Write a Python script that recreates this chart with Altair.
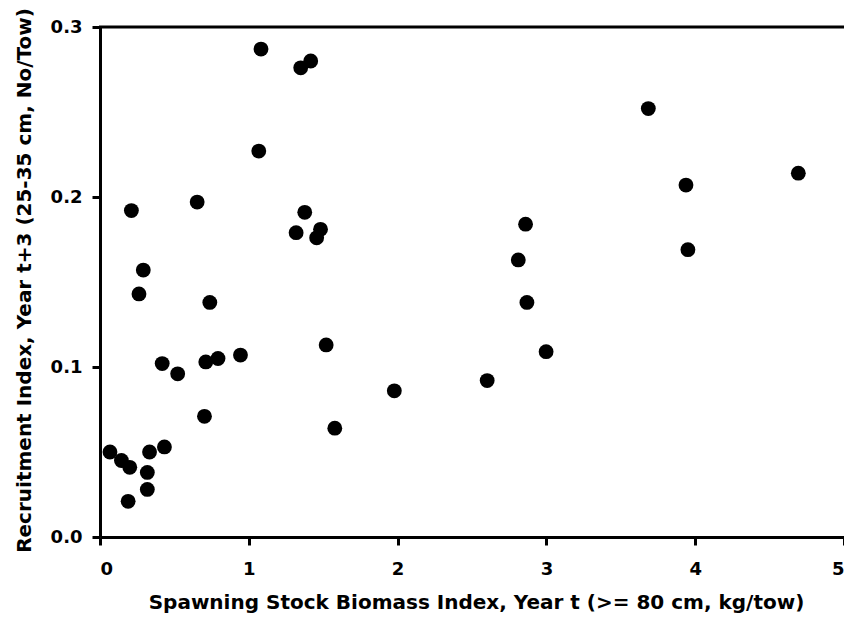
import altair as alt
import pandas as pd

ssb = [0.067, 0.144, 0.200, 0.189, 0.333, 0.318, 0.318, 0.433, 0.418, 0.522,
       0.702, 0.711, 0.793, 0.944, 1.520, 1.578, 1.978, 0.738, 0.262, 1.082,
       1.349, 1.416, 1.067, 0.653, 0.211, 1.376, 1.318, 1.482, 1.456, 0.291,
       3.685, 3.938, 4.693, 2.860, 2.811, 2.869, 3.951, 2.998, 2.602]
recruit = [0.050, 0.045, 0.041, 0.021, 0.050, 0.038, 0.028, 0.053, 0.102, 0.096,
           0.071, 0.103, 0.105, 0.107, 0.113, 0.064, 0.086, 0.138, 0.143, 0.287,
           0.276, 0.280, 0.227, 0.197, 0.192, 0.191, 0.179, 0.181, 0.176, 0.157,
           0.252, 0.207, 0.214, 0.184, 0.163, 0.138, 0.169, 0.109, 0.092]

x_ticks = [0, 1, 2, 3, 4, 5]
y_ticks = [0.0, 0.1, 0.2, 0.3]
x_title = "Spawning Stock Biomass Index, Year t (>= 80 cm, kg/tow)"
y_title = "Recruitment Index, Year t+3 (25-35 cm, No/Tow)"

df = pd.DataFrame({"ssb": ssb, "recruit": recruit})

FONT = "DejaVu Sans"
LFS = 18
TFS = 20
W, H = 744, 510

xs = alt.Scale(domain=[0, 5], nice=False, zero=False)
ys = alt.Scale(domain=[0, 0.3], nice=False, zero=False)

pts = alt.Chart(df).mark_circle(size=220, color="black", opacity=1).encode(
    x=alt.X("ssb:Q", scale=xs, title=x_title,
            axis=alt.Axis(values=x_ticks, format="d", grid=False,
                          domainColor="black", domainWidth=3,
                          tickColor="black", tickWidth=3, tickSize=8,
                          labelPadding=15, labelFontSize=LFS, labelFontWeight="bold",
                          labelFont=FONT, labelColor="black",
                          titleFont=FONT, titleFontSize=TFS, titleFontWeight="bold",
                          titleColor="black", titleBaseline="alphabetic",
                          titleX=376, titleY=71)),
    y=alt.Y("recruit:Q", scale=ys, title=y_title,
            axis=alt.Axis(values=y_ticks, format=".1f", grid=False,
                          domainColor="black", domainWidth=3,
                          tickColor="black", tickWidth=3, tickSize=8,
                          labelPadding=10, labelFontSize=LFS, labelFontWeight="bold",
                          labelFont=FONT, labelColor="black",
                          titleFont=FONT, titleFontSize=TFS, titleFontWeight="bold",
                          titleColor="black", titleBaseline="alphabetic",
                          titleX=-70, titleY=253)),
)

top_rule = alt.Chart(pd.DataFrame({"y": [0.3]})).mark_rule(
    color="black", strokeWidth=3
).encode(
    y=alt.Y("y:Q", scale=ys),
    x=alt.value(-1),
    x2=alt.value(W),
)

chart = alt.layer(pts, top_rule).properties(
    width=W, height=H,
    autosize=alt.AutoSizeParams(type="none"),
    padding={"left": 92, "top": 19, "right": 0, "bottom": 76},
).configure_view(stroke="#888888", strokeWidth=1).configure(background="white")

chart.save("out.html", embed_options={"renderer": "svg", "actions": False})
